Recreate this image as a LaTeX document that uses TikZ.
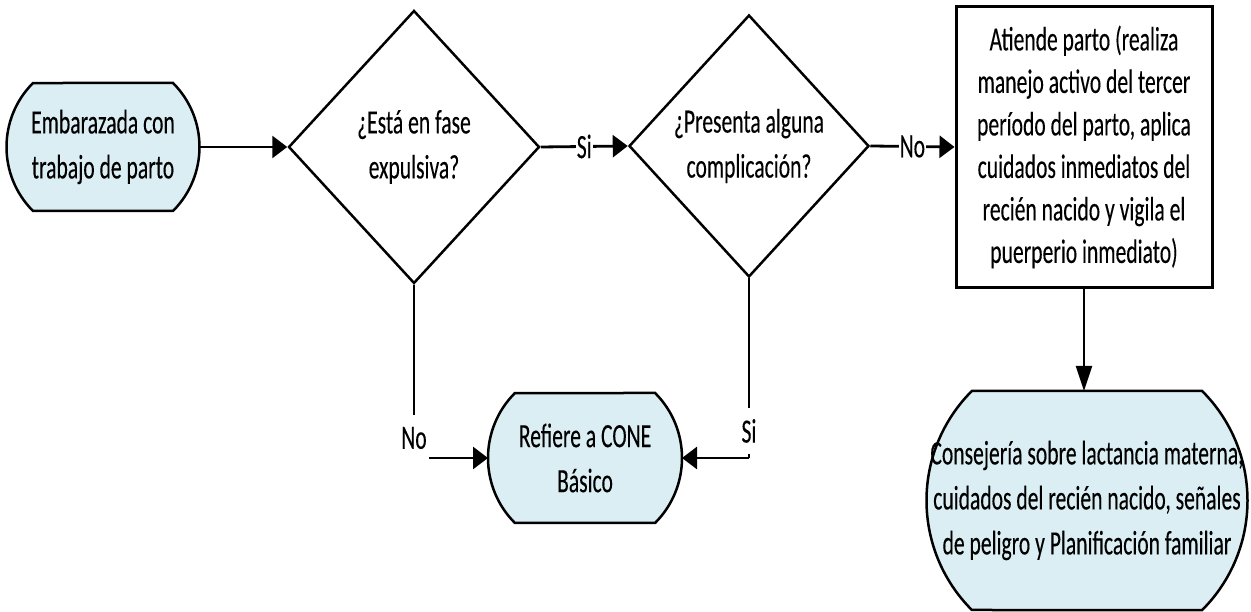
\documentclass[tikz,border=0pt]{standalone}
\usepackage{fontspec}
\setmainfont{Carlito}[FakeStretch=0.635,FakeBold=0.2]
\usetikzlibrary{shapes.geometric,arrows.meta,calc,backgrounds}
\definecolor{termfill}{HTML}{DAEEF3}
\newcommand{\termoutline}[2]{%
  \draw[termline] ($(#1.north east)+({-#2*0.29289},0)$)
    arc[start angle=45,end angle=-45,radius=#2]
    -- ($(#1.south west)+({#2*0.29289},0)$)
    arc[start angle=225,end angle=135,radius=#2] -- cycle;}
\begin{document}
\begin{tikzpicture}[x=1pt,y=1pt,
  every node/.style={font=\fontsize{34}{45}\selectfont},
  term/.style={rectangle, align=center, inner sep=0pt, outer sep=0pt},
  termline/.style={draw, line width=2.5pt, fill=termfill, line join=miter},
  dec/.style={diamond, draw, line width=2.5pt, inner sep=0pt, align=center},
  proc/.style={rectangle, draw, line width=3pt, align=center, inner sep=0pt},
  conn/.style={line width=2.8pt, -{Triangle[length=15pt,width=22pt]}},
  vconn/.style={line width=2pt},
  downarr/.style={line width=2pt, -{Triangle[length=25pt,width=16pt]}},
  lbl/.style={fill=white, inner xsep=1pt, inner ysep=2pt},
  clbl/.style={fill=white, inner xsep=2pt, inner ysep=0pt, minimum height=46pt},
]
\useasboundingbox (0,0) rectangle (1251,612);

\node[term, minimum width=193pt, minimum height=128pt] (start) at (103,465)
  {Embarazada con\\trabajo de parto};
\node[dec, minimum width=251pt, minimum height=273pt] (d1) at (414,465)
  {¿Está en fase\\expulsiva?};
\node[dec, minimum width=240pt, minimum height=262pt] (d2) at (749,466)
  {¿Presenta alguna\\complicación?};
\node[proc, minimum width=256pt, minimum height=281pt,
  font=\fontsize{34}{42.5}\selectfont] (act) at (1084,465)
  {Atiende parto (realiza\\manejo activo del tercer\\período del parto, aplica\\cuidados inmediatos del\\recién nacido y vigila el\\puerperio inmediato)};
\node[term, minimum width=194pt, minimum height=130pt] (ref) at (585,154)
  {Refiere a CONE\\Básico};
\node[term, minimum width=321pt, minimum height=219pt] (cons) at (1087,111.5)
  {Consejería sobre lactancia materna,\\cuidados del recién nacido, señales\\de peligro y Planificación familiar};

\begin{scope}[on background layer]
  \termoutline{start}{90.5}
  \termoutline{ref}{91.9}
  \termoutline{cons}{154.9}
\end{scope}

\draw[conn] (start.east) -- (d1.west);
\draw[conn] (d1.east) -- node[lbl]{Si} (d2.west);
\draw[conn] (d2.east) -- node[lbl]{No} (act.west);
\draw[downarr] (act.south) -- (act.south |- cons.north);
\draw[vconn] (d1.south) -- (d1.south |- ref.west);
\draw[conn] (d1.south |- ref.west) -- (ref.west);
\node[clbl, yshift=20pt] (nolbl) at (d1.south |- ref.west) {No};
\draw[vconn] (d2.south) -- (d2.south |- ref.east);
\draw[conn] (d2.south |- ref.east) -- (ref.east);
\node[clbl, yshift=27pt] (silbl) at (d2.south |- ref.east) {Si};
\end{tikzpicture}
\end{document}
